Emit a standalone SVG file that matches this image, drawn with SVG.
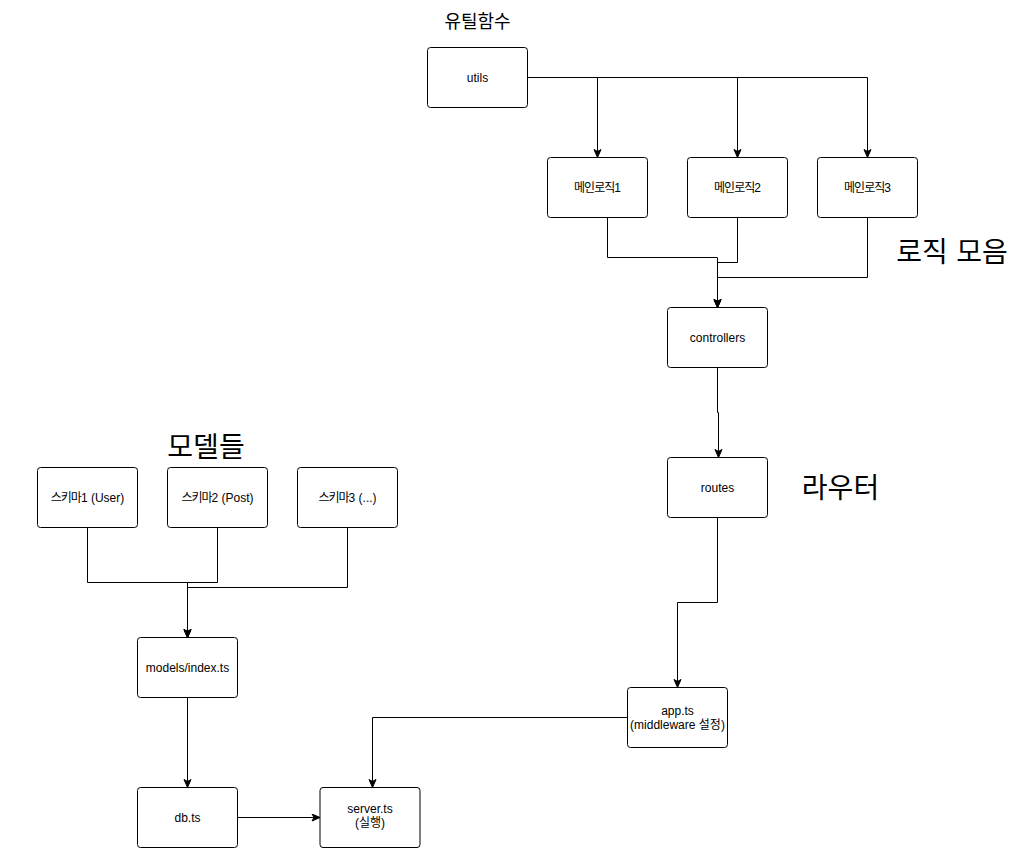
<svg xmlns="http://www.w3.org/2000/svg" width="1026" height="866" viewBox="0 0 1026 866">
<style>
.box{fill:#fff;stroke:#000;stroke-width:1}
.t{font-family:"Liberation Sans","Noto Sans CJK KR",Arial,sans-serif;font-size:12px;fill:#000;text-anchor:middle}
.k{letter-spacing:-1px}
.big{font-family:"Noto Sans CJK KR","Liberation Sans",sans-serif;fill:#000;text-anchor:middle}
.c{fill:none;stroke:#000;stroke-width:1}
</style>
<defs>
<marker id="a" markerUnits="userSpaceOnUse" markerWidth="10" markerHeight="10" viewBox="0 0 10 10" refX="9" refY="4" orient="auto">
<path d="M1 0.5 L9 4 L1 7.5 L3 4 Z" fill="#000" stroke="#000" stroke-width="1"/>
</marker>
</defs>
<rect width="1026" height="866" fill="#fff"/>
<g id="labels">
<text class="big" x="477.5" y="28" font-size="18">유틸함수</text>
<text class="big" x="952" y="262" font-size="28" word-spacing="2">로직 모음</text>
<text class="big" x="206" y="457" font-size="28">모델들</text>
<text class="big" x="840.5" y="498" font-size="28">라우터</text>
</g>
<g id="connectors">
<path class="c" d="M527.5 77.5 H597.5 V157.5" marker-end="url(#a)"/>
<path class="c" d="M527.5 77.5 H737.5 V157.5" marker-end="url(#a)"/>
<path class="c" d="M527.5 77.5 H867.5 V157.5" marker-end="url(#a)"/>
<path class="c" d="M607.5 217.5 V257.5 H717.5 V307.5" marker-end="url(#a)"/>
<path class="c" d="M737.5 217.5 V262.5 H717.5 V307.5" marker-end="url(#a)"/>
<path class="c" d="M867.5 217.5 V277.5 H717.5 V307.5" marker-end="url(#a)"/>
<path class="c" d="M717.5 367.5 V412.5 H718.5 V457.5" marker-end="url(#a)"/>
<path class="c" d="M717.5 517.5 V602.5 H677.5 V687.5" marker-end="url(#a)"/>
<path class="c" d="M627.5 717.5 H372.5 V787.5" marker-end="url(#a)"/>
<path class="c" d="M237.5 817.5 H320" marker-end="url(#a)"/>
<path class="c" d="M187.5 697.5 V787.5" marker-end="url(#a)"/>
<path class="c" d="M87.5 527.5 V582.5 H187.5 V637.5" marker-end="url(#a)"/>
<path class="c" d="M217.5 527.5 V582.5 H187.5 V637.5" marker-end="url(#a)"/>
<path class="c" d="M347.5 527.5 V587.5 H187.5 V637.5" marker-end="url(#a)"/>
</g>
<g id="utils"><rect class="box" x="427.5" y="47.5" width="100" height="60" rx="3"/><text class="t" x="477.5" y="81.5">utils</text></g>
<g id="logic1"><rect class="box" x="547.5" y="157.5" width="100" height="60" rx="3"/><text class="t" x="597.5" y="191.5"><tspan class="k">메인로직</tspan>1</text></g>
<g id="logic2"><rect class="box" x="687.5" y="157.5" width="100" height="60" rx="3"/><text class="t" x="737.5" y="191.5"><tspan class="k">메인로직</tspan>2</text></g>
<g id="logic3"><rect class="box" x="817.5" y="157.5" width="100" height="60" rx="3"/><text class="t" x="867.5" y="191.5"><tspan class="k">메인로직</tspan>3</text></g>
<g id="controllers"><rect class="box" x="667.5" y="307.5" width="100" height="60" rx="3"/><text class="t" x="717.5" y="341.5">controllers</text></g>
<g id="routes"><rect class="box" x="667.5" y="457.5" width="100" height="60" rx="3"/><text class="t" x="717.5" y="491.5">routes</text></g>
<g id="app"><rect class="box" x="627.5" y="687.5" width="100" height="60" rx="3"/><text class="t" x="677.5" y="714.5">app.ts</text><text class="t" x="677.5" y="728.5">(middleware 설정)</text></g>
<g id="schema1"><rect class="box" x="37.5" y="467.5" width="100" height="60" rx="3"/><text class="t" x="87.5" y="501.5"><tspan class="k">스키마</tspan>1 (User)</text></g>
<g id="schema2"><rect class="box" x="167.5" y="467.5" width="100" height="60" rx="3"/><text class="t" x="217.5" y="501.5"><tspan class="k">스키마</tspan>2 (Post)</text></g>
<g id="schema3"><rect class="box" x="297.5" y="467.5" width="100" height="60" rx="3"/><text class="t" x="347.5" y="501.5"><tspan class="k">스키마</tspan>3 (...)</text></g>
<g id="models"><rect class="box" x="137.5" y="637.5" width="100" height="60" rx="3"/><text class="t" x="187.5" y="671.5">models/index.ts</text></g>
<g id="db"><rect class="box" x="137.5" y="787.5" width="100" height="60" rx="3"/><text class="t" x="187.5" y="821.5">db.ts</text></g>
<g id="server"><rect class="box" x="320" y="787.5" width="100" height="60" rx="3"/><text class="t" x="370" y="812.5">server.ts</text><text class="t" x="370" y="827">(실행)</text></g>
</svg>
